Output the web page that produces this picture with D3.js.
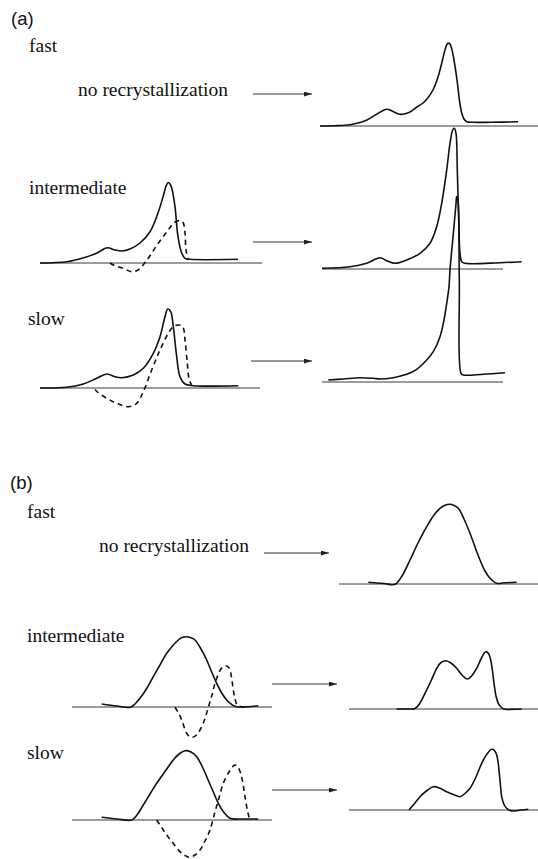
<!DOCTYPE html>
<html>
<head>
<meta charset="utf-8">
<script src="https://cdn.jsdelivr.net/npm/d3@7"></script>
<style>
  html, body { margin: 0; padding: 0; background: #fff; }
  svg { display: block; }
</style>
</head>
<body>
<svg id="fig" width="538" height="859"></svg>
<script>
// ---- Curve data: [temperature step, heat flow (a.u.)], relative to each trace's start and zero line ----

// (a) heating traces, "fast": no recrystallization
const aFastResult = [[0,0],[15,0.3],[30,1.3],[40,3.5],[47,6],[57,12],[64,16],[67,16.7],[71,15.5],[76,13],
  [80,11.7],[85,12.2],[90,14],[97,19],[103,23],[107,27],[113,36],[118,49],[122,64],[125,76],[127.5,82.5],
  [129.5,82.5],[131.5,78],[134,66],[137,46],[140,22],[142,12],[144,7],[147,4.2],[152,3.7],[170,3.7],[198,4.2]];

// (a) "intermediate": melting (solid) and recrystallization (dashed)
const aIntMelt = [[0,0],[27,1.3],[43,5],[57,10],[67,15.3],[75,13],[82,12],[90,14],[100,20],[110,31.3],
  [118,50],[123,66],[126.5,78],[128.3,80.5],[130,79],[131.7,75],[135,56.3],[138,26.3],[141.7,10],[145,4.7],
  [150,3.7],[198,3.7]];
const aIntRecryst = [[70,0],[74,-2.3],[83,-5.3],[92,-8.7],[98,-7],[107,3],[117,18],[127,31.3],[132,38],
  [137,42],[141,42],[143.3,40],[145,30],[146,13],[148.3,3]];
const aIntResult = [[0,0.7],[28,2.3],[44.7,5.7],[58,11.3],[64.7,8.3],[73,5.7],[84.7,9],[98,15.7],[108,25.7],
  [114.7,42.3],[119.7,65.7],[124.7,99],[128,125.7],[130.7,139],[132.3,140.7],[134,135.7],[135.3,99],
  [136.7,49],[138,15.7],[139.7,7.3],[143,5.7],[178,6.3],[199.7,7.3]];

// (a) "slow"
const aSlowMelt = [[0,0],[26.7,0.7],[43.3,4],[56.7,9.7],[66.7,14],[75,11.3],[81.7,10.3],[93.3,13],
  [103.3,19.7],[113.3,34.7],[120,51.3],[125,71.3],[127.7,79],[130.7,76.3],[133.3,61.3],[136.7,31.3],
  [140,11.3],[145,4],[153.3,2.3],[198.3,2.3]];
const aSlowRecryst = [[55,-1.5],[58,-4.5],[66.7,-10.3],[78.3,-16],[88.3,-18.7],[96.7,-15.3],[103.3,-3.7],
  [111.7,18],[120,38],[128.3,54.7],[133.3,61.3],[138.3,63],[142.7,61.3],[145,48],[147.3,24.7],[149.3,8],[151.7,3]];
const aSlowResult = [[6.3,2],[21.3,3],[38,4.3],[51.3,3.7],[58,3],[71.3,4.3],[84.7,7.7],[94.7,12.7],
  [104.7,22],[111.3,30.3],[118,45.3],[122,62],[124.7,78.7],[127,95.3],[128,112],[131.3,148],[134,178],
  [134.7,185.3],[135.7,183.7],[137.3,102],[139,8.7],[141.3,7],[161.3,7.7],[183,9.3]];

// (b) traces, "fast"
const bFastResult = [[29.3,1.7],[45,0.5],[56,-0.3],[63,8],[71,24],[79,41],[87.7,57.3],[95,69],[101,75.7],
  [106,78.8],[111,79.7],[115,78.5],[119.3,75.7],[125,65],[131,50.7],[136,37],[141,24],[146,13],[151,5.7],
  [157.7,0.7],[165,1.2],[177.7,1.7]];

// (b) "intermediate"
const bIntMelt = [[29.7,3],[45,1],[58,-0.3],[63,3],[68,8.7],[75,19],[81.3,30.3],[88,42],[94.7,53.7],
  [100.5,61],[106.3,67],[110,69.5],[114,70.3],[118.5,69.5],[123,67],[129,58],[134.7,47],[139.7,35],
  [144.7,23.7],[149.7,14],[154.7,7],[159.7,2.5],[164.7,0.3],[186.3,1.3]];
const bIntRecryst = [[103,-0.3],[106.5,-6],[109.7,-13],[114.7,-26.3],[117.7,-29.5],[120.7,-30.3],
  [124.5,-28],[128,-23],[132.5,-13],[136.3,-0.3],[140,12],[143,23.7],[148.7,37.7],[151.5,40.3],[154,41],
  [156.3,40],[158,37],[159.8,28],[161.3,17],[163.3,7],[165.3,2],[170,0],[174.7,-0.3]];
const bIntResult = [[47.7,0],[60,0],[66,0.5],[71,6],[76,15.7],[82,28],[87.7,40.7],[92,46.5],[97,48.3],
  [102,46],[107.7,40.7],[113,34],[118.3,30],[123,33.5],[127.7,40.7],[132.5,51],[136.7,57.3],[139.5,55.5],
  [141.7,49],[143.5,38],[145,25.7],[147,13],[149.3,5.7],[152.5,1.5],[156,-0.3],[165,-0.3],[172.7,0]];

// (b) "slow"
const bSlowMelt = [[29.7,2.7],[45,1],[59.7,0],[65,5],[71.3,15],[78,26],[84.7,36.7],[93,48.5],[101.3,60],
  [107,66],[113,69.3],[119,68],[124.7,63.3],[130,54],[134.7,43.3],[140.5,30],[146.3,16.7],[152,7.5],
  [158,1.7],[170,1],[186.3,1]];
const bSlowRecryst = [[84.7,0],[89.7,-7.5],[94.7,-15],[101.3,-23.5],[108,-31.7],[113,-35.5],[118,-37.3],
  [123,-35],[128,-30],[133,-21],[138,-10],[143,8.3],[147,22],[151.3,36.7],[157,48],[161,53.5],[163,55],
  [165.5,53.5],[168.7,46.7],[171,36],[173,23.3],[175.3,10],[177.3,1.7]];
const bSlowResult = [[60,0],[65.5,6.5],[71,13.3],[78,19.5],[84.3,23.3],[91,21.8],[97.7,18.3],[104.3,15.5],
  [111,13.3],[116,16.5],[121,21.7],[127,33],[132.7,46.7],[138,56],[142.7,60.7],[145.5,59.5],[147.7,55],
  [149.2,47],[150.3,36.7],[151.5,24],[152.7,13.3],[155,5.5],[157.7,1.7],[161,-0.5],[164.3,-1],[172,0],[179.3,0.7]];

// ---- Text ----
const sectionLabels = ["(a)", "(b)"];
const rateLabels = ["fast", "intermediate", "slow"];
const noRecrystLabel = "no recrystallization";

// ---- Layout (pixel frames for each trace) ----
const frames = {
  aFastR: { x0: 320, x1: 538, base: 126 },
  aIntL:  { x0: 40,  x1: 262, base: 263 },
  aIntR:  { x0: 322, x1: 503, base: 269 },
  aSlowL: { x0: 40,  x1: 260, base: 388 },
  aSlowR: { x0: 322, x1: 503, base: 382 },
  bFastR: { x0: 339, x1: 538, base: 584 },
  bIntL:  { x0: 72,  x1: 272, base: 707 },
  bIntR:  { x0: 349, x1: 538, base: 709 },
  bSlowL: { x0: 72,  x1: 272, base: 820 },
  bSlowR: { x0: 349, x1: 538, base: 810 }
};

const SERIF = "'Liberation Serif', 'Times New Roman', 'DejaVu Serif', serif";
const SANS = "'Liberation Sans', Arial, 'DejaVu Sans', sans-serif";

const svg = d3.select("#fig");

// Scales per trace frame: one temperature step and one heat-flow unit per pixel
function scalesFor(f) {
  const x = d3.scaleLinear().domain([0, f.x1 - f.x0]).range([f.x0, f.x1]);
  const y = d3.scaleLinear().domain([0, 100]).range([f.base, f.base - 100]);
  return { x, y };
}

function drawFrame(f, traces) {
  const { x, y } = scalesFor(f);
  const g = svg.append("g");
  // zero line
  g.append("line")
    .attr("x1", x(0)).attr("x2", x(f.x1 - f.x0))
    .attr("y1", y(0)).attr("y2", y(0))
    .attr("stroke", "#3a3a3a").attr("stroke-width", 1);
  const line = d3.line()
    .x(d => x(d[0])).y(d => y(d[1]))
    .curve(d3.curveCatmullRom.alpha(0.5));
  traces.forEach(t => {
    g.append("path")
      .attr("d", line(t.data))
      .attr("fill", "none")
      .attr("stroke", "#111")
      .attr("stroke-width", 1.6)
      .attr("stroke-linejoin", "round")
      .attr("stroke-dasharray", t.dashed ? "5,4" : null);
  });
}

drawFrame(frames.aFastR, [{ data: aFastResult }]);
drawFrame(frames.aIntL,  [{ data: aIntMelt }, { data: aIntRecryst, dashed: true }]);
drawFrame(frames.aIntR,  [{ data: aIntResult }]);
drawFrame(frames.aSlowL, [{ data: aSlowMelt }, { data: aSlowRecryst, dashed: true }]);
drawFrame(frames.aSlowR, [{ data: aSlowResult }]);
drawFrame(frames.bFastR, [{ data: bFastResult }]);
drawFrame(frames.bIntL,  [{ data: bIntMelt }, { data: bIntRecryst, dashed: true }]);
drawFrame(frames.bIntR,  [{ data: bIntResult }]);
drawFrame(frames.bSlowL, [{ data: bSlowMelt }, { data: bSlowRecryst, dashed: true }]);
drawFrame(frames.bSlowR, [{ data: bSlowResult }]);

// Arrows between the trace pairs
svg.append("defs").append("marker")
  .attr("id", "head").attr("viewBox", "0 0 10 6")
  .attr("refX", 10).attr("refY", 3)
  .attr("markerWidth", 8).attr("markerHeight", 5)
  .attr("markerUnits", "userSpaceOnUse")
  .attr("orient", "auto")
  .append("path").attr("d", "M0,0 L10,3 L0,6 Z").attr("fill", "#222");

const arrows = [
  { x1: 253, x2: 312, y: 94 },
  { x1: 253, x2: 312, y: 242 },
  { x1: 251, x2: 312, y: 361 },
  { x1: 264, x2: 329, y: 553 },
  { x1: 272, x2: 337, y: 684 },
  { x1: 272, x2: 337, y: 790 }
];
svg.selectAll("line.arrow").data(arrows).enter().append("line")
  .attr("class", "arrow")
  .attr("x1", d => d.x1).attr("x2", d => d.x2)
  .attr("y1", d => d.y).attr("y2", d => d.y)
  .attr("stroke", "#333").attr("stroke-width", 1)
  .attr("marker-end", "url(#head)");

// Section and rate labels
const sectionPos = [{ x: 11, y: 25 }, { x: 10, y: 489 }];
svg.selectAll("text.section").data(sectionLabels).enter().append("text")
  .attr("class", "section")
  .attr("x", (d, i) => sectionPos[i].x).attr("y", (d, i) => sectionPos[i].y)
  .attr("font-family", SANS)
  .attr("font-size", 18.5)
  .attr("fill", "#111")
  .text(d => d);

const rateText = [
  { t: rateLabels[0], x: 29, y: 52 },
  { t: noRecrystLabel, x: 78, y: 96 },
  { t: rateLabels[1], x: 29, y: 194 },
  { t: rateLabels[2], x: 28, y: 325 },
  { t: rateLabels[0], x: 27, y: 518 },
  { t: noRecrystLabel, x: 99, y: 552 },
  { t: rateLabels[1], x: 27, y: 642 },
  { t: rateLabels[2], x: 27, y: 759 }
];
svg.selectAll("text.rate").data(rateText).enter().append("text")
  .attr("class", "rate")
  .attr("x", d => d.x).attr("y", d => d.y)
  .attr("font-family", SERIF)
  .attr("font-size", 19.5)
  .attr("fill", "#111")
  .text(d => d.t);
</script>
</body>
</html>
